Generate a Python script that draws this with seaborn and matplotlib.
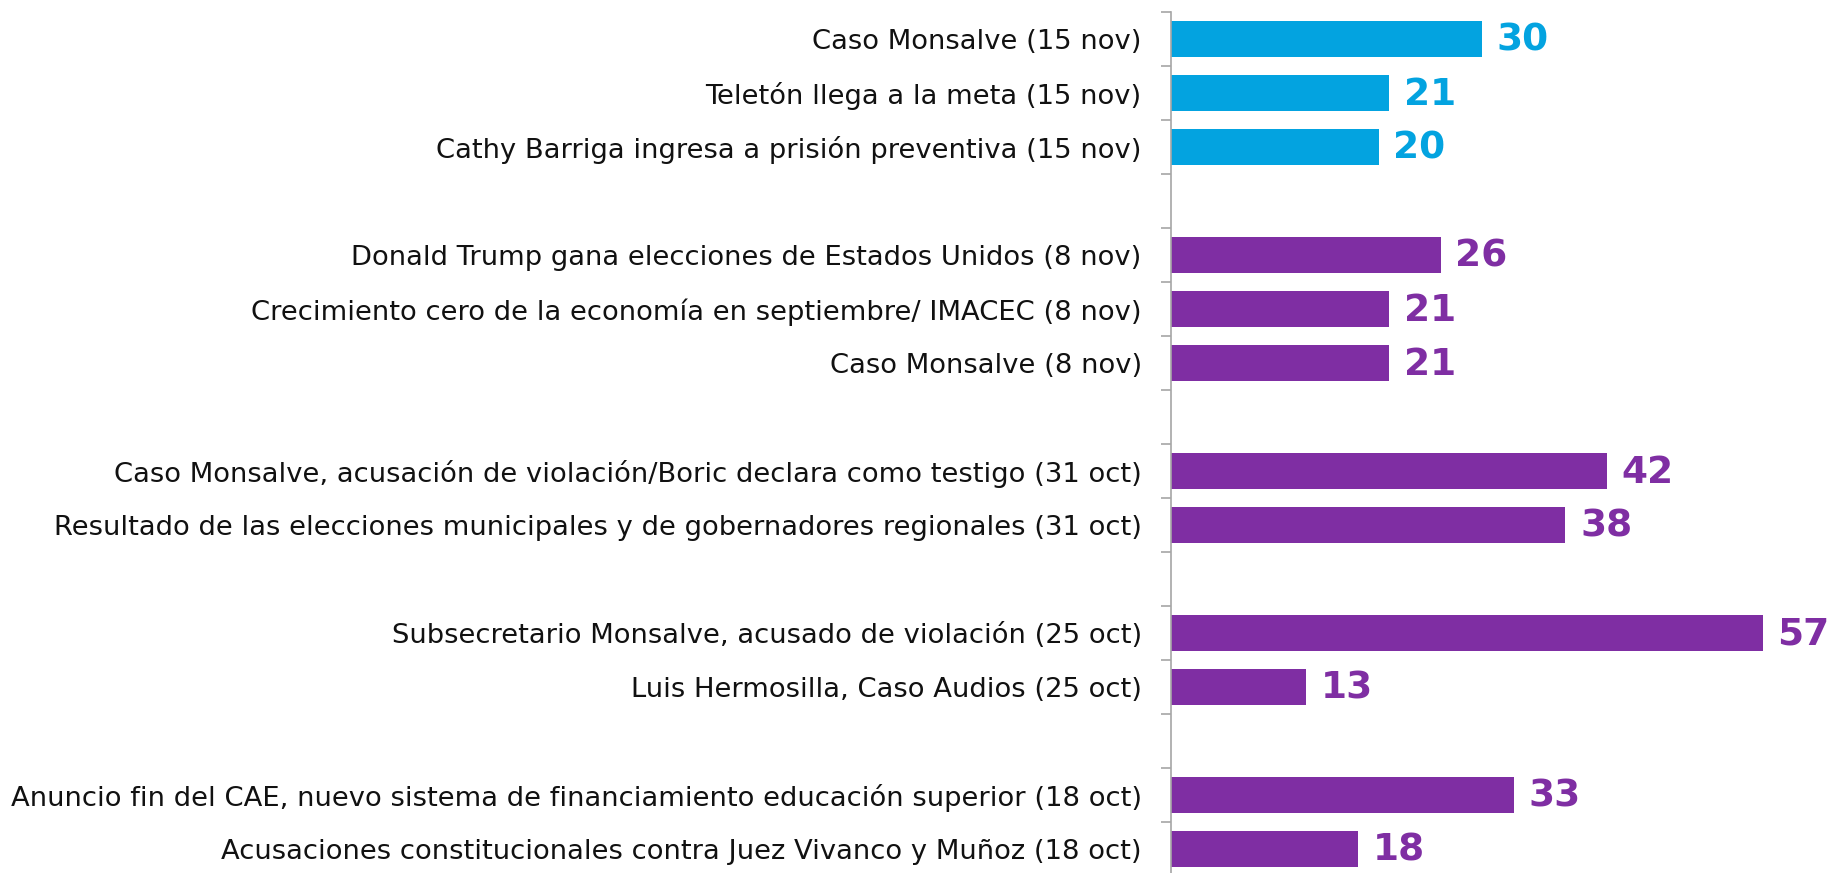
import seaborn as sns
import matplotlib.pyplot as plt
import pandas as pd

# events top to bottom, blank strings are the gaps between weeks
labels = [
    'Caso Monsalve (15 nov)',
    'Teletón llega a la meta (15 nov)',
    'Cathy Barriga ingresa a prisión preventiva (15 nov)',
    'Donald Trump gana elecciones de Estados Unidos (8 nov)',
    'Crecimiento cero de la economía en septiembre/ IMACEC (8 nov)',
    'Caso Monsalve (8 nov)',
    'Caso Monsalve, acusación de violación/Boric declara como testigo (31 oct)',
    'Resultado de las elecciones municipales y de gobernadores regionales (31 oct)',
    'Subsecretario Monsalve, acusado de violación (25 oct)',
    'Luis Hermosilla, Caso Audios (25 oct)',
    'Anuncio fin del CAE, nuevo sistema de financiamiento educación superior (18 oct)',
    'Acusaciones constitucionales contra Juez Vivanco y Muñoz (18 oct)',
]
values = [30, 21, 20, 26, 21, 21, 42, 38, 57, 13, 33, 18]
week = ['15 nov'] * 3 + ['otras'] * 9
order = labels[:3] + [' '] + labels[3:6] + ['  '] + labels[6:8] + ['   '] + labels[8:10] + ['    '] + labels[10:]

BLUE = '#03a3e0'
PURPLE = '#7f2ea3'
palette = {'15 nov': BLUE, 'otras': PURPLE}

data = pd.DataFrame({'evento': labels, 'menciones': values, 'semana': week})

plt.rcParams['font.family'] = ['DejaVu Sans']
fig = plt.figure(figsize=(18.27, 8.73), dpi=100)
ax = fig.add_axes([1171 / 1827, -3 / 873, 656 / 1827, 864 / 873])

sns.barplot(data=data, x='menciones', y='evento', hue='semana', order=order,
            palette=palette, saturation=1, width=0.68, legend=False, dodge=False,
            ax=ax, linewidth=0)

ax.set_xlim(0, 63.2)
ax.set_ylim(len(order) - 0.5, -0.5)

# value labels
for i, name in enumerate(order):
    if name.strip() == '':
        continue
    v = values[labels.index(name)]
    c = palette[week[labels.index(name)]]
    ax.text(v + 1.4, i + 0.03, str(v), va='center', ha='left', fontsize=27,
            fontweight='heavy', color=c)

ax.set_xlabel('')
ax.set_ylabel('')
ax.set_xticks([])
ax.tick_params(axis='y', which='major', length=0, pad=21, labelsize=19.7, labelcolor='#111111')
ax.set_yticks([i - 0.5 for i in range(len(order) + 1)], minor=True)
ax.tick_params(axis='y', which='minor', length=7.5, width=1.2, color='#a6a6a6')
for s in ['top', 'right', 'bottom']:
    ax.spines[s].set_visible(False)
ax.spines['left'].set_color('#a6a6a6')
ax.spines['left'].set_linewidth(1.2)

fig.savefig('out.png', dpi=100)
